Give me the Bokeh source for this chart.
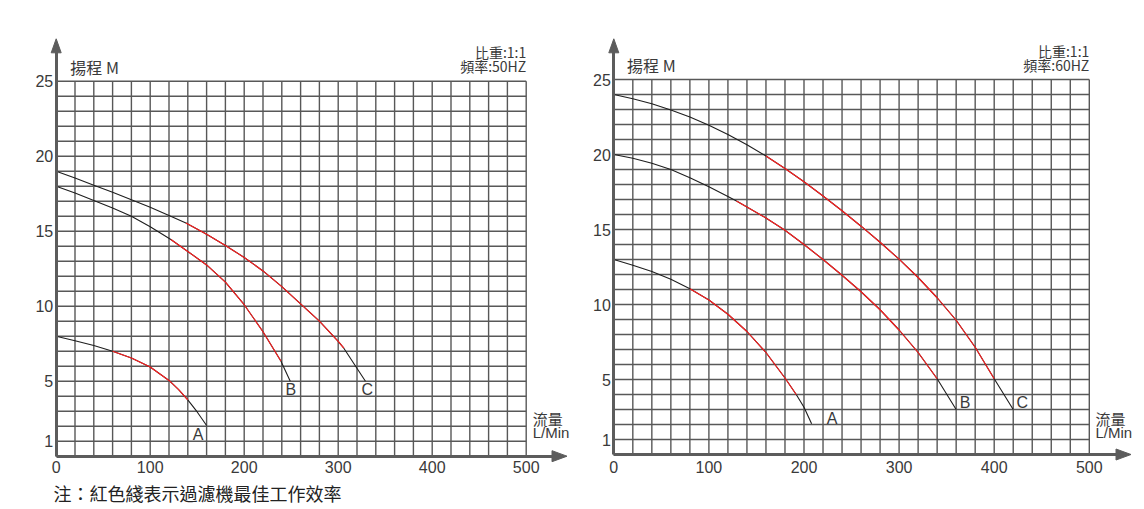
from bokeh.plotting import figure
from bokeh.layouts import row
from bokeh.models import Range1d, FixedTicker, Label
from bokeh.embed import file_html
from bokeh.resources import INLINE

# ---------------- data ----------------
x_tick_values = [0, 100, 200, 300, 400, 500]
y_tick_values = [1, 5, 10, 15, 20, 25]
grid_flow = list(range(0, 501, 20))
grid_head = list(range(0, 26))

# 50 Hz curves (flow L/Min, head M)
flow_50_A = [0, 20, 40, 60, 80, 100, 120, 130, 140, 150, 160]
head_50_A = [8.0, 7.7, 7.38, 7.0, 6.55, 5.95, 5.05, 4.45, 3.75, 2.95, 2.05]
best_50_A = [60, 140]

flow_50_B = [0, 20, 40, 60, 80, 100, 122, 140, 160, 180, 200, 220, 239, 249]
head_50_B = [18.0, 17.55, 17.05, 16.55, 16.0, 15.3, 14.45, 13.65, 12.75, 11.6, 10.1, 8.3, 6.35, 5.0]
best_50_B = [122, 239]

flow_50_C = [0, 20, 40, 60, 80, 100, 120, 138, 160, 180, 200, 220, 240, 260, 280, 300, 306, 329]
head_50_C = [19.0, 18.55, 18.07, 17.6, 17.1, 16.6, 16.05, 15.55, 14.8, 14.05, 13.25, 12.35, 11.3, 10.15, 9.0, 7.65, 7.2, 5.0]
best_50_C = [138, 306]

# 60 Hz curves
flow_60_A = [0, 20, 40, 60, 80, 100, 120, 140, 160, 180, 192, 200, 208]
head_60_A = [13.0, 12.62, 12.2, 11.68, 11.05, 10.3, 9.35, 8.2, 6.8, 5.1, 3.98, 3.15, 2.05]
best_60_A = [80, 192]

flow_60_B = [0, 20, 40, 60, 80, 100, 120, 129, 140, 160, 180, 200, 220, 240, 260, 280, 300, 320, 340, 360]
head_60_B = [20.0, 19.75, 19.42, 19.0, 18.45, 17.85, 17.2, 16.9, 16.5, 15.77, 14.95, 14.0, 13.0, 11.95, 10.85, 9.65, 8.3, 6.8, 5.05, 3.0]
best_60_B = [129, 340]

flow_60_C = [0, 20, 40, 60, 80, 100, 120, 140, 160, 180, 200, 220, 240, 260, 280, 300, 320, 340, 360, 380, 400, 420]
head_60_C = [24.0, 23.72, 23.38, 22.97, 22.5, 21.95, 21.33, 20.65, 19.9, 19.07, 18.18, 17.23, 16.25, 15.22, 14.15, 13.02, 11.8, 10.45, 8.95, 7.15, 5.05, 3.0]
best_60_C = [160, 400]

curve_names = ["A", "B", "C"]
spec_line_1 = "比重:1:1"
spec_line_2_50 = "頻率:50HZ"
spec_line_2_60 = "頻率:60HZ"
note_text = "注：紅色綫表示過濾機最佳工作效率"

# ---------------- styles / layout ----------------
GRID_COLOR = "#585858"
AXIS_COLOR = "#5c5c5c"
TEXT_COLOR = "#3a3a3a"
CJK = "Noto Sans CJK TC"
NUM_FONT = "Liberation Sans"
HEIGHT = 509


def make_panel(width, origin_px, px_per_x, px_per_y, x_tip_px, y_tip_px,
               curves, label_pos, ytitle, ytitle_x, spec2, spec_y, tick_size,
               x_standoff, flow_lbl_x, flow_lbl_y, note=None):
    ox, oy = origin_px          # pixel of data (0, 0) inside this figure
    x_range = Range1d(-ox / px_per_x, (width - ox) / px_per_x)
    y_range = Range1d(-(HEIGHT - oy) / px_per_y, oy / px_per_y)
    p = figure(width=width, height=HEIGHT, output_backend="svg",
               toolbar_location=None, x_range=x_range, y_range=y_range,
               min_border_left=0, min_border_right=0, min_border_top=0,
               min_border_bottom=0)
    p.outline_line_color = None
    p.xgrid.visible = False
    p.ygrid.visible = False

    x_tip = (x_tip_px - ox) / px_per_x
    y_tip = (oy - y_tip_px) / px_per_y
    head_len_x = 15 / px_per_x
    head_len_y = 14 / px_per_y

    # grid
    p.segment(x0=grid_flow, y0=[grid_head[0]] * len(grid_flow),
              x1=grid_flow, y1=[grid_head[-1]] * len(grid_flow),
              line_color=GRID_COLOR, line_width=1.4)
    p.segment(x0=[grid_flow[0]] * len(grid_head), y0=grid_head,
              x1=[grid_flow[-1]] * len(grid_head), y1=grid_head,
              line_color=GRID_COLOR, line_width=1.4)

    # axes, drawn at data 0
    for ax in (p.xaxis[0], p.yaxis[0]):
        ax.fixed_location = 0
        ax.axis_line_color = AXIS_COLOR
        ax.axis_line_width = 3
        ax.major_tick_line_color = None
        ax.minor_tick_line_color = None
        ax.major_tick_out = 0
        ax.major_tick_in = 0
        ax.minor_tick_out = 0
        ax.minor_tick_in = 0
        ax.major_label_text_color = TEXT_COLOR
        ax.major_label_text_font = NUM_FONT
        ax.major_label_text_font_size = tick_size
    p.xaxis.ticker = FixedTicker(ticks=x_tick_values)
    p.yaxis.ticker = FixedTicker(ticks=y_tick_values)
    p.xaxis.bounds = (0, x_tip - head_len_x + 1)
    p.yaxis.bounds = (0, y_tip - head_len_y + 0.1)
    p.xaxis.major_label_standoff = x_standoff
    p.yaxis.major_label_standoff = 3

    # arrow heads
    hw_y = 5.5 / px_per_y
    hw_x = 5.0 / px_per_x
    p.patches(xs=[[x_tip, x_tip - head_len_x, x_tip - head_len_x],
                  [0, -hw_x, hw_x]],
              ys=[[0, hw_y, -hw_y],
                  [y_tip, y_tip - head_len_y, y_tip - head_len_y]],
              fill_color=AXIS_COLOR, line_color=AXIS_COLOR, line_width=1)

    # curves
    for name, (fx, hy, best) in zip(curve_names, curves):
        p.line(fx, hy, line_color="#1e1e1e", line_width=1.1)
        rx = [f for f in fx if best[0] <= f <= best[1]]
        ry = [h for f, h in zip(fx, hy) if best[0] <= f <= best[1]]
        p.line(rx, ry, line_color="#ff2020", line_width=1.1)
        lx, ly = label_pos[name]
        p.add_layout(Label(x=lx, y=ly, text=name, text_align="center",
                           text_baseline="middle", text_font=NUM_FONT,
                           text_font_size="16px", text_color=TEXT_COLOR))

    # texts
    p.add_layout(Label(x=ytitle_x, y=25.95, text=ytitle, text_font=CJK,
                       text_font_size="16px", text_color=TEXT_COLOR,
                       text_baseline="alphabetic"))
    p.add_layout(Label(x=500, y=spec_y[0], text=spec_line_1, text_font=CJK,
                       text_font_size="14px", text_color=TEXT_COLOR,
                       text_align="right", text_baseline="alphabetic"))
    p.add_layout(Label(x=500, y=spec_y[1], text=spec2, text_font=CJK,
                       text_font_size="14px", text_color=TEXT_COLOR,
                       text_align="right", text_baseline="alphabetic"))
    p.add_layout(Label(x=flow_lbl_x, y=flow_lbl_y[0], text="流量", text_font=CJK,
                       text_font_size="15px", text_color=TEXT_COLOR,
                       text_baseline="alphabetic"))
    p.add_layout(Label(x=flow_lbl_x, y=flow_lbl_y[1], text="L/Min", text_font=NUM_FONT,
                       text_font_size="15px", text_color=TEXT_COLOR,
                       text_baseline="alphabetic"))
    if note:
        p.add_layout(Label(x=-2.9, y=-3.3, text=note, text_font=CJK,
                           text_font_size="18px", text_color="#222222",
                           text_baseline="bottom"))
    return p


p1 = make_panel(580, (55.7, 455.7), 0.94, 15.0, 566.5, 38.3,
                [(flow_50_A, head_50_A, best_50_A),
                 (flow_50_B, head_50_B, best_50_B),
                 (flow_50_C, head_50_C, best_50_C)],
                {"A": (151, 1.45), "B": (249.6, 4.45), "C": (330.9, 4.45)},
                "揚程 M", 15, spec_line_2_50, (26.95, 26.0), "16px", 5,
                507, (2.52, 1.56), note=note_text)

p2 = make_panel(564, (33.3, 454.0), 0.951, 15.0, 1130.5 - 580, 38.3,
                [(flow_60_A, head_60_A, best_60_A),
                 (flow_60_B, head_60_B, best_60_B),
                 (flow_60_C, head_60_C, best_60_C)],
                {"A": (229.6, 2.43), "B": (369.5, 3.5), "C": (429.4, 3.5)},
                "揚程  M", 14, spec_line_2_60, (26.87, 25.97), "16px", 6,
                506.5, (2.4, 1.47))

layout = row(p1, p2)
open("out.html", "w").write(file_html(layout, INLINE))
